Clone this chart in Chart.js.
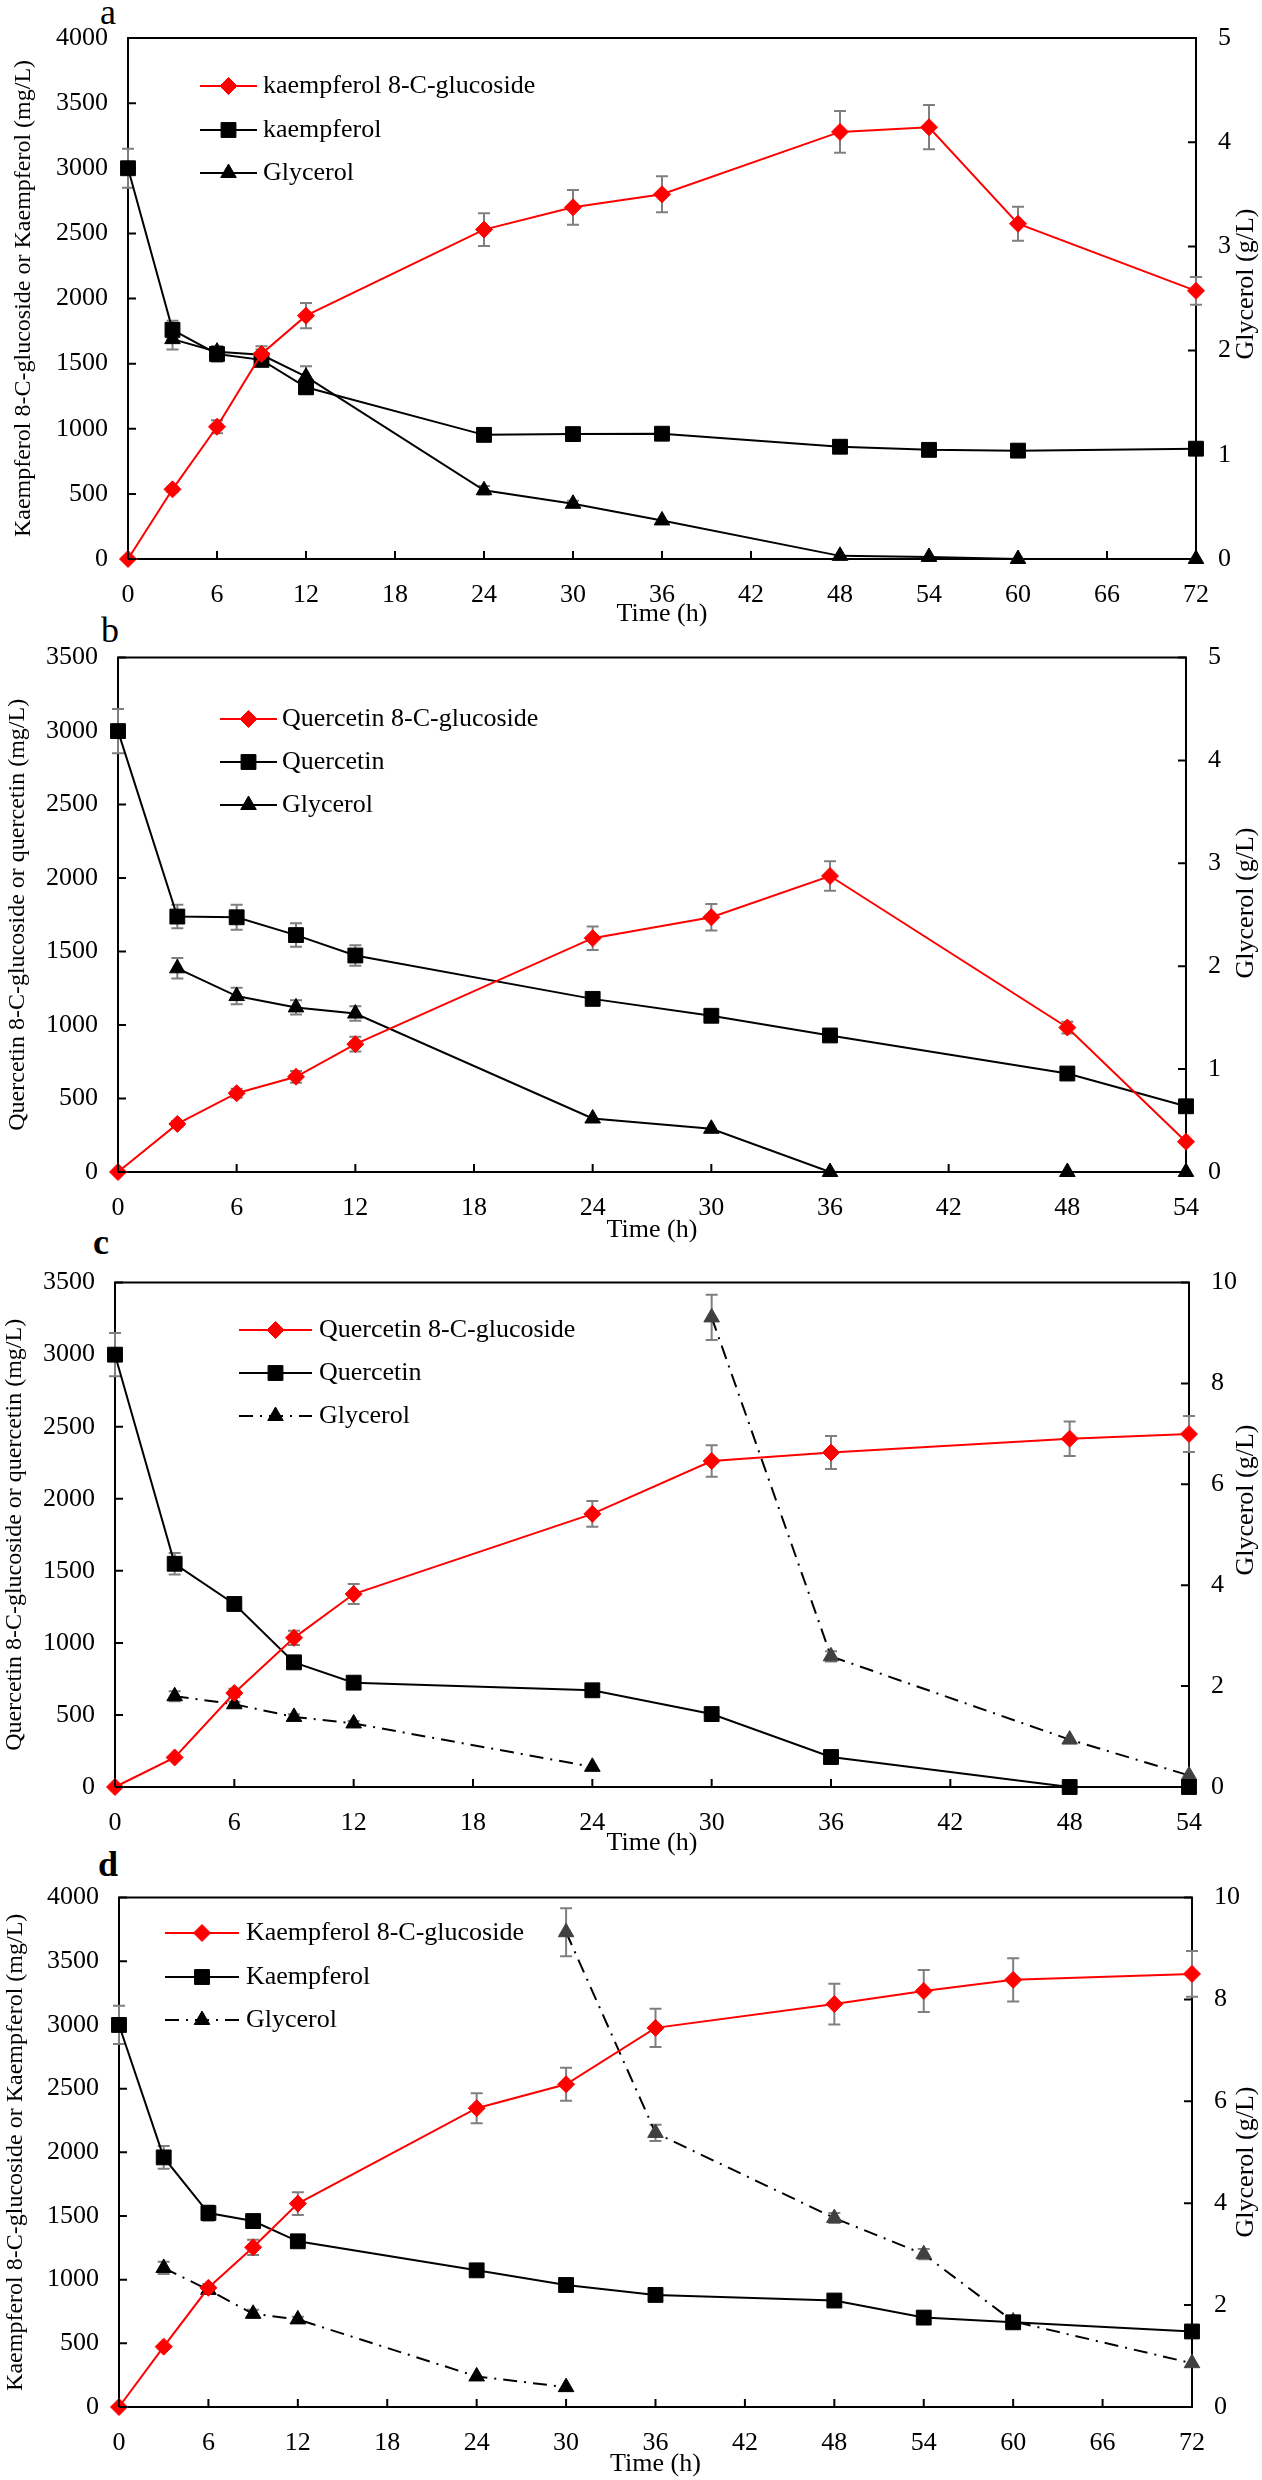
<!DOCTYPE html>
<html>
<head>
<meta charset="utf-8">
<script src="https://cdn.jsdelivr.net/npm/chart.js@4.4.1/dist/chart.umd.min.js"></script>
<style>
  body { margin: 0; background: #fff; width: 1262px; height: 2480px; position: relative; overflow: hidden; }
  canvas { position: absolute; left: 0; }
  .tag { position: absolute; font-family: 'Liberation Serif', 'Times New Roman', serif; font-size: 36px; line-height: 1; transform: translate(-50%, -50%); color: #000; }
</style>
</head>
<body>
<div class="tag" style="left:108px;top:12px">a</div>
<div class="tag" style="left:110px;top:630px">b</div>
<div class="tag" style="left:101px;top:1242px;font-weight:bold">c</div>
<div class="tag" style="left:108px;top:1864px;font-weight:bold">d</div>
<canvas id="ca"></canvas>
<canvas id="cb"></canvas>
<canvas id="cc"></canvas>
<canvas id="cd"></canvas>
<script>
// panel a
const hoursA = [0, 3, 6, 9, 12, 24, 30, 36, 48, 54, 60, 72];
const aGlucoside = [0, 535, 1015, 1574, 1868, 2529, 2700, 2800, 3279, 3315, 2574, 2059];
const aGlucosideErr = [0, 20, 50, 60, 97, 125, 133, 138, 160, 170, 130, 107];
const aKaempferol = [3000, 1759, 1574, 1529, 1318, 953, 959, 962, 862, 838, 832, 847];
const aKaempferolErr = [150, 70, 60, 50, 50, 0, 0, 0, 0, 0, 0, 0];
const aGlyHours = [3, 6, 9, 12, 24, 30, 36, 48, 54, 60, 72];
const aGlycerol = [2.11, 1.99, 1.96, 1.75, 0.66, 0.53, 0.37, 0.03, 0.02, 0, 0];
const aGlycerolErr = [0.1, 0.05, 0.05, 0.1, 0.04, 0.03, 0, 0, 0, 0, 0];

// panel b
const hoursB = [0, 3, 6, 9, 12, 24, 30, 36, 48, 54];
const bGlucoside = [0, 327, 536, 648, 870, 1591, 1733, 2014, 983, 206];
const bGlucosideErr = [0, 20, 30, 40, 50, 80, 90, 100, 40, 0];
const bQuercetin = [3000, 1738, 1733, 1612, 1473, 1178, 1063, 929, 670, 447];
const bQuercetinErr = [150, 80, 85, 80, 70, 40, 0, 0, 0, 0];
const bGlyHours = [3, 6, 9, 12, 24, 30, 36, 48, 54];
const bGlycerol = [1.98, 1.71, 1.6, 1.54, 0.52, 0.42, 0, 0, 0];
const bGlycerolErr = [0.1, 0.08, 0.07, 0.07, 0, 0, 0, 0, 0];

// panel c
const hoursC = [0, 3, 6, 9, 12, 24, 30, 36, 48, 54];
const cGlucoside = [0, 205, 652, 1035, 1339, 1895, 2262, 2321, 2417, 2449];
const cGlucosideErr = [0, 0, 30, 50, 70, 90, 110, 115, 120, 125];
const cQuercetin = [3000, 1549, 1270, 865, 724, 671, 506, 208, 0, 0];
const cQuercetinErr = [150, 75, 40, 0, 0, 0, 0, 0, 0, 0];
const cGlyHours1 = [3, 6, 9, 12, 24];
const cGlycerol1 = [1.8, 1.64, 1.39, 1.26, 0.4];
const cGlycerol1Err = [0.1, 0.05, 0.05, 0.05, 0];
const cGlyHours2 = [30, 36, 48, 54];
const cGlycerol2 = [9.31, 2.59, 0.94, 0.23];
const cGlycerol2Err = [0.45, 0.1, 0, 0];

// panel d
const hoursD = [0, 3, 6, 9, 12, 24, 30, 36, 48, 54, 60, 72];
const dGlucoside = [0, 474, 936, 1254, 1597, 2346, 2534, 2977, 3164, 3267, 3354, 3401];
const dGlucosideErr = [0, 0, 30, 60, 90, 117, 130, 150, 160, 165, 170, 180];
const dKaempferol = [3000, 1960, 1523, 1460, 1301, 1073, 958, 880, 836, 702, 665, 593];
const dKaempferolErr = [150, 90, 60, 50, 40, 0, 0, 0, 0, 0, 0, 0];
const dGlyHours1 = [3, 6, 9, 12, 24, 30];
const dGlycerol1 = [2.73, 2.3, 1.83, 1.72, 0.6, 0.39];
const dGlycerol1Err = [0.12, 0.08, 0.08, 0.05, 0, 0];
const dGlyHours2 = [30, 36, 48, 54, 60, 72];
const dGlycerol2 = [9.32, 5.38, 3.71, 3.0, 1.68, 0.86];
const dGlycerol2Err = [0.47, 0.16, 0.1, 0.1, 0, 0];

const FONT = "'Liberation Serif', 'Times New Roman', serif";
const DASH = [14, 7, 2, 7];
Chart.defaults.font.family = FONT;
Chart.defaults.font.size = 26;
Chart.defaults.color = '#000';

function pts(xs, ys) { return xs.map((x, i) => ({ x: x, y: ys[i] })); }

function redSet(label, xs, ys, err) {
  return { label, data: pts(xs, ys), errors: err, yAxisID: 'y', borderColor: '#ff0000', backgroundColor: '#ff0000',
    pointStyle: 'rectRot', pointRadius: 8.5, pointBorderWidth: 1, borderWidth: 2, tension: 0, clip: false };
}
function squareSet(label, xs, ys, err) {
  return { label, data: pts(xs, ys), errors: err, yAxisID: 'y', borderColor: '#000', backgroundColor: '#000',
    pointStyle: 'rect', pointRadius: 10.5, pointBorderWidth: 1, borderWidth: 2, tension: 0, clip: false };
}
function glySet(label, xs, ys, err, dashed, fill) {
  return { label, data: pts(xs, ys), errors: err, yAxisID: 'y2', borderColor: '#000', backgroundColor: fill,
    pointBackgroundColor: fill, pointBorderColor: fill, borderDash: dashed ? DASH : [],
    pointStyle: 'triangle', pointRadius: 9, pointBorderWidth: 1, borderWidth: 2, tension: 0, clip: false };
}

const framePlugin = {
  id: 'frame',
  beforeDatasetsDraw(chart) {
    const ctx = chart.ctx;
    ctx.save();
    ctx.strokeStyle = '#7f7f7f';
    ctx.lineWidth = 2;
    chart.data.datasets.forEach((ds, i) => {
      if (!ds.errors) return;
      const meta = chart.getDatasetMeta(i);
      const ys = chart.scales[ds.yAxisID];
      meta.data.forEach((el, j) => {
        const e = ds.errors[j];
        if (!e) return;
        const v = ds.data[j].y;
        const y1 = ys.getPixelForValue(v - e), y2 = ys.getPixelForValue(v + e);
        ctx.beginPath();
        ctx.moveTo(el.x, y1); ctx.lineTo(el.x, y2);
        ctx.moveTo(el.x - 6, y1); ctx.lineTo(el.x + 6, y1);
        ctx.moveTo(el.x - 6, y2); ctx.lineTo(el.x + 6, y2);
        ctx.stroke();
      });
    });
    ctx.restore();
  },
  afterDraw(chart, args, opts) {
    const ctx = chart.ctx;
    const a = chart.chartArea;
    ctx.save();
    ctx.strokeStyle = '#000';
    ctx.lineWidth = 2;
    // top border
    ctx.beginPath();
    ctx.moveTo(a.left - 1, a.top); ctx.lineTo(a.right + 1, a.top);
    ctx.stroke();
    // inward ticks
    ctx.beginPath();
    const sx = chart.scales.x, sy = chart.scales.y, sy2 = chart.scales.y2;
    sx.ticks.forEach(t => { const x = sx.getPixelForValue(t.value); ctx.moveTo(x, a.bottom); ctx.lineTo(x, a.bottom - 8); });
    sy.ticks.forEach(t => { const y = sy.getPixelForValue(t.value); ctx.moveTo(a.left, y); ctx.lineTo(a.left + 8, y); });
    sy2.ticks.forEach(t => { const y = sy2.getPixelForValue(t.value); ctx.moveTo(a.right, y); ctx.lineTo(a.right - 8, y); });
    ctx.stroke();
    // right axis title, reading upward
    ctx.fillStyle = '#000';
    ctx.font = '26px ' + FONT;
    ctx.textAlign = 'center';
    ctx.textBaseline = 'middle';
    ctx.save();
    ctx.translate(1246, opts.rightTitleY);
    ctx.rotate(-Math.PI / 2);
    ctx.fillText('Glycerol (g/L)', 0, 0);
    ctx.restore();
    // legend
    const L = opts.legend;
    L.items.forEach((it, k) => {
      const ds = chart.data.datasets[it.ds];
      const y = L.rows[k];
      ctx.save();
      ctx.strokeStyle = ds.borderColor;
      ctx.lineWidth = 2;
      ctx.setLineDash(ds.borderDash || []);
      ctx.beginPath();
      ctx.moveTo(L.x0, y); ctx.lineTo(L.x1, y);
      ctx.stroke();
      ctx.restore();
      ctx.fillStyle = ds.backgroundColor;
      ctx.strokeStyle = ds.backgroundColor;
      ctx.lineWidth = 1;
      Chart.helpers.drawPoint(ctx, { pointStyle: ds.pointStyle, radius: ds.pointRadius, rotation: 0, borderWidth: 1 }, (L.x0 + L.x1) / 2, y);
      ctx.fillStyle = '#000';
      ctx.textAlign = 'left';
      ctx.fillText(it.text, L.textX, y);
    });
    ctx.restore();
  }
};

function panel(id, p) {
  const canvas = document.getElementById(id);
  const h = p.titleY + 16 - p.top;
  canvas.width = 1262;
  canvas.height = h;
  canvas.style.top = p.top + 'px';
  canvas.style.width = '1262px';
  canvas.style.height = h + 'px';
  const xh = h - (p.B - p.top);
  const rel = v => v - p.top;
  new Chart(canvas.getContext('2d'), {
    type: 'line',
    data: { datasets: p.datasets },
    plugins: [framePlugin],
    options: {
      responsive: false,
      animation: false,
      devicePixelRatio: 1,
      layout: { padding: { top: p.T - p.top, left: 0, right: 0, bottom: 0 } },
      plugins: {
        legend: { display: false },
        tooltip: { enabled: false },
        frame: {
          rightTitleY: rel(p.rightTitleY),
          legend: { x0: p.legend.x0, x1: p.legend.x1, textX: p.legend.textX, rows: p.legend.rows.map(rel), items: p.legend.items }
        }
      },
      scales: {
        x: {
          type: 'linear', min: 0, max: p.xMax,
          ticks: { stepSize: 6, padding: 21, maxRotation: 0, callback: v => String(v) },
          grid: { display: false, drawTicks: false },
          border: { display: true, color: '#000', width: 2 },
          title: { display: true, text: 'Time (h)', font: { size: 26 }, padding: { top: 0, bottom: 0 } },
          afterFit: s => { s.height = xh; }
        },
        y: {
          type: 'linear', position: 'left', min: 0, max: p.yMax,
          ticks: { stepSize: 500, padding: 20, callback: v => String(v) },
          grid: { display: false, drawTicks: false },
          border: { display: true, color: '#000', width: 2 },
          title: { display: true, text: p.yTitle, font: { size: 24 }, padding: { top: p.yTitleX - 14.4, bottom: 0 } },
          afterFit: s => { s.width = p.L; }
        },
        y2: {
          type: 'linear', position: 'right', min: 0, max: p.y2Max,
          ticks: { stepSize: p.y2Step, padding: 22, callback: v => String(v) },
          grid: { display: false, drawTicks: false },
          border: { display: true, color: '#000', width: 2 },
          afterFit: s => { s.width = 1262 - p.R; }
        }
      }
    }
  });
}

panel('ca', {
  top: 0, T: 38, B: 559, L: 128, R: 1196, titleY: 614, rightTitleY: 284, yTitleX: 24,
  xMax: 72, yMax: 4000, y2Max: 5, y2Step: 1,
  yTitle: 'Kaempferol 8-C-glucoside or Kaempferol (mg/L)',
  datasets: [
    redSet('kaempferol 8-C-glucoside', hoursA, aGlucoside, aGlucosideErr),
    squareSet('kaempferol', hoursA, aKaempferol, aKaempferolErr),
    glySet('Glycerol', aGlyHours, aGlycerol, aGlycerolErr, false, '#000')
  ],
  legend: { x0: 200, x1: 257, textX: 263, rows: [86, 130, 173],
    items: [{ ds: 0, text: 'kaempferol 8-C-glucoside' }, { ds: 1, text: 'kaempferol' }, { ds: 2, text: 'Glycerol' }] }
});

panel('cb', {
  top: 620, T: 655, B: 1172, L: 118, R: 1186, titleY: 1230, rightTitleY: 903, yTitleX: 18,
  xMax: 54, yMax: 3500, y2Max: 5, y2Step: 1,
  yTitle: 'Quercetin 8-C-glucoside or quercetin (mg/L)',
  datasets: [
    redSet('Quercetin 8-C-glucoside', hoursB, bGlucoside, bGlucosideErr),
    squareSet('Quercetin', hoursB, bQuercetin, bQuercetinErr),
    glySet('Glycerol', bGlyHours, bGlycerol, bGlycerolErr, false, '#000')
  ],
  legend: { x0: 220, x1: 277, textX: 282, rows: [719, 762, 805],
    items: [{ ds: 0, text: 'Quercetin 8-C-glucoside' }, { ds: 1, text: 'Quercetin' }, { ds: 2, text: 'Glycerol' }] }
});

panel('cc', {
  top: 1245, T: 1267, B: 1787, L: 115, R: 1189, titleY: 1843, rightTitleY: 1500, yTitleX: 15,
  xMax: 54, yMax: 3500, y2Max: 10, y2Step: 2,
  yTitle: 'Quercetin 8-C-glucoside or quercetin (mg/L)',
  datasets: [
    redSet('Quercetin 8-C-glucoside', hoursC, cGlucoside, cGlucosideErr),
    squareSet('Quercetin', hoursC, cQuercetin, cQuercetinErr),
    glySet('Glycerol', cGlyHours1, cGlycerol1, cGlycerol1Err, true, '#000'),
    glySet('Glycerol (fed)', cGlyHours2, cGlycerol2, cGlycerol2Err, true, '#404040')
  ],
  legend: { x0: 239, x1: 312, textX: 319, rows: [1330, 1373, 1416],
    items: [{ ds: 0, text: 'Quercetin 8-C-glucoside' }, { ds: 1, text: 'Quercetin' }, { ds: 2, text: 'Glycerol' }] }
});

panel('cd', {
  top: 1860, T: 1884, B: 2407, L: 119, R: 1192, titleY: 2464, rightTitleY: 2162, yTitleX: 16,
  xMax: 72, yMax: 4000, y2Max: 10, y2Step: 2,
  yTitle: 'Kaempferol 8-C-glucoside or Kaempferol (mg/L)',
  datasets: [
    redSet('Kaempferol 8-C-glucoside', hoursD, dGlucoside, dGlucosideErr),
    squareSet('Kaempferol', hoursD, dKaempferol, dKaempferolErr),
    glySet('Glycerol', dGlyHours1, dGlycerol1, dGlycerol1Err, true, '#000'),
    glySet('Glycerol (fed)', dGlyHours2, dGlycerol2, dGlycerol2Err, true, '#404040')
  ],
  legend: { x0: 165, x1: 239, textX: 246, rows: [1933, 1977, 2020],
    items: [{ ds: 0, text: 'Kaempferol 8-C-glucoside' }, { ds: 1, text: 'Kaempferol' }, { ds: 2, text: 'Glycerol' }] }
});
</script>
</body>
</html>
